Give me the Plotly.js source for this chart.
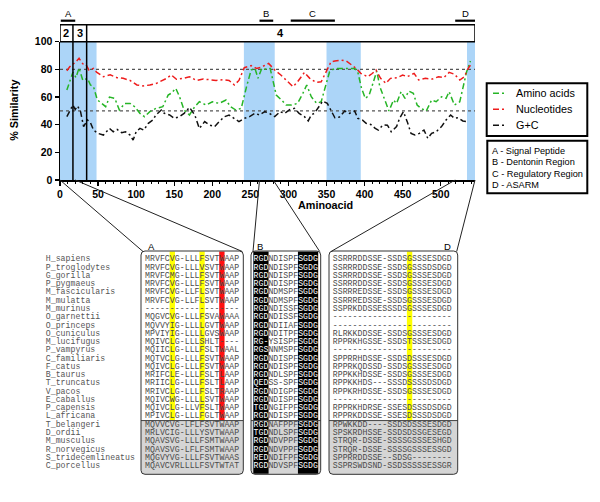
<!DOCTYPE html>
<html><head><meta charset="utf-8">
<script src="https://cdn.plot.ly/plotly-3.0.1.min.js"></script>
<style>html,body{margin:0;padding:0;background:#fff}</style>
</head><body><div id="chart" style="width:600px;height:502px"></div>
<script>
// ---------- similarity curves ----------
const aminoX = [9,13,17,21,25,30,36,40,44,49,55,60,65,72,78,85,92,98,105,111,118,126,135,142,146,152,157,163,170,177,183,192,200,209,218,224,231,238,245,251,256,260,265,271,276,280,284,291,297,304,312,319,324,330,337,343,350,354,361,369,378,387,391,396,401,406,411,416,420,427,432,438,442,448,453,458,464,469,474,481,488,494,501,507,511,518,525,529,534,539];
const aminoY = [65,72,78,74,81,72,73.5,68.7,67.5,58,55.4,53,60,59,50.6,55.4,55.4,53,48.2,45.8,49.4,51.8,53,61.4,62.7,66.3,60.2,50.6,47,53,56.6,54.2,56.6,55.4,57.8,53,50.6,51.8,67.5,79.5,80.7,73.5,80.7,80,80.7,70,61.4,57.8,54.2,54.2,55.4,62.7,68.7,60.2,55.4,56.6,71,78.3,80.7,80.7,81.2,80.7,78.3,66.3,59,61.4,69.9,78.8,67.5,56.6,49.9,57.8,55.4,63.9,59,64.3,62.7,54.2,51.8,49.9,57.8,56.6,60.2,59,63.9,54.2,56.6,66.3,78.3,86];
const nucX = [9,13,20,25,30,34,38,44,48,57,66,75,83,92,101,109,118,127,140,146,153,162,170,179,188,196,205,214,222,229,235,242,251,258,264,274,282,290,297,306,312,321,328,336,343,350,356,361,369,376,382,389,395,404,410,415,421,428,434,443,450,456,465,471,480,489,497,504,511,518,525,531,536,539];
const nucY = [79,82,85,88,84,83.6,79.5,80.7,78,74.7,76,74,73.5,72,68.7,68,68.7,70,73.5,76,72.8,73.5,74.7,72,73,72.5,72,72.5,72,68.7,72,81.2,82.7,80.7,81.5,84.3,79.5,75.9,72.3,67.5,71,77.8,73.5,70.6,71,79.5,85.5,86,86.7,86,83.6,80.7,77.1,74.7,77,79.5,73.5,69.9,73.5,74,75.9,74.7,77.1,72.3,73.5,73,74.7,74,77.8,76.5,72.3,74.7,80.7,83];
const gcX = [9,13,17,20,23,27,31,36,40,44,50,57,61,65,70,75,81,86,92,96,100,105,110,116,122,126,133,137,144,150,157,163,170,177,183,190,196,203,209,216,222,229,235,242,249,256,262,269,275,282,289,295,302,308,314,321,326,330,334,340,345,351,356,361,367,374,380,387,391,397,402,408,414,418,424,430,435,442,446,451,456,461,466,472,478,483,488,494,501,507,513,518,523,529,535];
const gcY = [45.8,50.6,54.2,51,53.5,49.4,38.6,43.4,41.4,36.1,33.7,32.5,34.9,37.3,34.9,36.6,34.2,34.9,32.5,28.9,34.9,37.3,36.1,41,43.4,47,50.6,48.2,47,44.6,45.8,48.2,52.5,47,37.3,42.2,39.8,38.6,42.2,45.8,47,44.6,42.2,44.6,45.8,48.2,47,49.4,48.2,45.8,49.4,48.2,51,51.8,48.2,45.8,42.7,47,48.2,53,57.1,55.4,50.6,45,45.5,49.9,48.2,49.9,44.6,43.4,41,40.2,37.3,36.1,39.8,39.6,34.9,38.6,44.6,49.4,42.2,33.7,32.5,33.7,36.1,30.1,33.7,34.9,38.6,43.4,47,44.6,45,42.7,42.2];
const seriesNames = ['Amino acids','Nucleotides','G+C'];
const seriesColors = ['#26b526','#ee1c1c','#111111'];

// ---------- regions ----------
const shadedStart = [0, 241.5, 350, 534.5];
const shadedEnd   = [48, 282, 395, 545];
const exonLabels = ['2','3','4'];
const exonBounds = [0, 17, 35, 545];
const featureLabels = ['A','B','C','D'];
const featureNames = ['Signal Peptide','Dentonin Region','Regulatory Region','ASARM'];
const featureStart = [1, 262, 303, 519];
const featureEnd   = [20, 280, 361, 545];
const refLines = [80, 50];

// ---------- alignment ----------
const species = ['H_sapiens','P_troglodytes','G_gorilla','P_pygmaeus','M_fascicularis','M_mulatta','M_murinus','O_garnettii','O_princeps','O_cuniculus','M_lucifugus','P_vampyrus','C_familiaris','F_catus','B_taurus','T_truncatus','V_pacos','E_caballus','P_capensis','L_africana','T_belangeri','D_ordii','M_musculus','R_norvegicus','S_tridecemlineatus','C_porcellus'];
const seqA = ['MRVFCVG-LLLFSVTWAAP','MRVFCVG-LLLVSVTWAAP','MRVFCMG-LLLFSVTWAAP','MRVFCVG-LLLFSVTWAAP','MRVFCVG-LLFLSVTWAAP','MRVFCVG-LLFLSVTWAAP','-------------------','MQGVCVG-LLLFSVAWAAA','MQVVYIG-LLLLGVTWAAP','MPVIYIG-LLLLGVSWAAP','MQIVCLG-LLLSHLT----','MQIICLG-LLLFSLTWAAL','MQTVCLG-LLLFSVTWAAP','MQIVCLG-LLLFSVTWAAP','MRIFCLE-LLLFSLTLAAP','MRIICLG-LLLFSLTLAAP','MRIVCLG-LLLFSLTRAAP','MQIVCWG-LLLLSVTWAAP','MQIVCLG-LLVFSLTWAAP','MPIVCLG-LLLFGLTWAAP','MQVVCVG-LFLFSVTWAAP','MRLVCIG-LLLYSVTWAAP','MQAVSVG-LLLFSMTWAAP','MQAVSVG-LFLFSMTWAAP','MQGVYVG-LLLFSVTWAAS','MQAVCVRLLLLFSVTWTAT'];
const seqB = ['RGDNDISPFSGDG','RGDNDISPFSGDG','RGDNDISPFSGDG','RGDNDISPFSGDG','RGDNDMSPFSGDG','RGDNDMSPFSGDG','RGDNDISSFSGDG','RGDNDISSFSGDG','RGDNDIIAFSGDG','RGDNDITPFSGDG','RG-YSISPFSGDG','RGSNNMSPFSGDG','RGDNDISPFSGDG','RGDNDISPFSGDG','RGDNDLSPFSGDG','QEDSS-SPFSGDG','RGDNDIGPFSGDG','RGDNDISPFSGDG','TGDNGIFPFSGDG','RGDNDISPFSGDG','RGDNAFPPFSGDG','TGDNDLSPFSGDG','RGDNDVPPFSGDG','RGDNDVPPFSGDG','REDNDIFPFSGDG','RGDNDVSPFSGDG'];
const seqD = ['SSRRRDDSSE-SSDSGSSSESDGD','SSRRRDDSSE-SSDSGSSSDSDGD','SSRRRDDSSE-SSDSGSSSESDGD','SSRRRDDSSE-SSDSGSSSESDGD','SSRRREDSSE-SSDSGSSSESDGD','SSRRREDSSE-SSDSGSSSESDGD','SSPRKDDSSESSSDSGSSSESDGD','------------------------','------------------------','RLRKKDDSSE-SSDSGSSSESDGD','RPPRKHGSSE-SSDSTSSSESDGD','------------------------','SPPRRHDSSE-SSDSDSSSESDGD','RPPRKQDSSD-SSDSGSSSESDGD','RPPKKHDSSE-SSDSGSSSESDGD','RPPKKHDS---SSSDSSSSDSDGD','RPPKRHDSSE-SSDSGSSSESDGD','------------------------','RPPRKHDRSE-SSESDSSSDSDGD','RPPRKDDSSE-SSESDSSSDSDGD','RPWKKDD----SSDSDSSSESDGD','SPSKRDHSSE-SSDSDSSGESEGD','STRQR-DSSE-SSSSGSSSESHGD','STRQR-DSSE-SSSSGSSSESSGD','SPPRRDDSSE--SDSG--------','SSPRSWDSND-SSDSSSSSESSGR'];
const greyFromRow = 20;

// ---------- layout constants (pixels) ----------
const W = 600, H = 502;
const xMax = 545;
const xDom = [60/W, 475/W];
const yDom = [1-180/H, 1-41.7/H];
const px = v => v / W;
const py = v => 1 - v / H;
const aaPaper = aa => xDom[0] + aa / xMax * (xDom[1]-xDom[0]);
const ROW0 = 259.3, ROWP = 8.27, CH = 4.96;
const boxTop = 251, boxBot = 474.3;
const greyY = ROW0 + (greyFromRow-0.5)*ROWP;
const mono = 'Liberation Mono, Courier New, monospace';
const sans = 'Arial, Liberation Sans, sans-serif';
const dashPat = '6px,3px,2px,3px';

const panels = [
  {label:'A', seqs:seqA, left:141, right:243.3, start:145, labelX:151, conn:0,
   hl:[{c0:5,c1:5,color:'#ffff00',full:false},{c0:11,c1:11,color:'#ffff00',full:false},{c0:15,c1:15,color:'#ff1010',full:false}]},
  {label:'B', seqs:seqB, left:251, right:320.7, start:253.5, labelX:260, conn:1,
   hl:[{c0:0,c1:2,color:'#000000',full:true},{c0:9,c1:12,color:'#000000',full:true}]},
  {label:'D', seqs:seqD, left:329, right:457.7, start:332.7, labelX:447, conn:3,
   hl:[{c0:15,c1:15,color:'#ffff00',full:false}]}
];

function rr(x0,y0,x1,y1,r){
  return `M${x0+r},${y0} L${x1-r},${y0} Q${x1},${y0} ${x1},${y0+r} L${x1},${y1-r} Q${x1},${y1} ${x1-r},${y1} L${x0+r},${y1} Q${x0},${y1} ${x0},${y1-r} L${x0},${y0+r} Q${x0},${y0} ${x0+r},${y0} Z`;
}
function rrBottom(x0,y0,x1,y1,r){
  return `M${x0},${y0} L${x1},${y0} L${x1},${y1-r} Q${x1},${y1} ${x1-r},${y1} L${x0+r},${y1} Q${x0},${y1} ${x0},${y1-r} Z`;
}
function ann(o){ return Object.assign({showarrow:false, xanchor:'center', yanchor:'middle', borderpad:0}, o); }

const shapes = [];
const annotations = [];

for (let i=0;i<shadedStart.length;i++){
  shapes.push({type:'rect', xref:'x', yref:'y', x0:shadedStart[i], x1:shadedEnd[i], y0:0, y1:100,
    fillcolor:'#acd5f8', line:{width:0}, layer:'below'});
}
refLines.forEach(v=>shapes.push({type:'line', xref:'x', yref:'y', x0:0, x1:xMax, y0:v, y1:v,
  line:{color:'#555', width:1.2, dash:'dot'}, layer:'below'}));
const exTop = py(24.7);
shapes.push({type:'rect', xref:'x', yref:'paper', x0:0, x1:xMax, y0:yDom[1], y1:exTop, line:{color:'#000', width:1.5}, fillcolor:'rgba(0,0,0,0)'});
for (let i=1;i<exonBounds.length-1;i++){
  shapes.push({type:'line', xref:'x', yref:'paper', x0:exonBounds[i], x1:exonBounds[i], y0:yDom[0], y1:exTop, line:{color:'#000', width:1.5}});
}
exonLabels.forEach((t,i)=>annotations.push(ann({xref:'x', yref:'paper', x:(exonBounds[i]+exonBounds[i+1])/2, y:py(33.2), text:t,
  font:{family:sans, size:11, weight:'bold', color:'#000'}})));
featureLabels.forEach((t,i)=>{
  shapes.push({type:'line', xref:'x', yref:'paper', x0:featureStart[i], x1:featureEnd[i], y0:py(20.7), y1:py(20.7), line:{color:'#000', width:2.2}});
  annotations.push(ann({xref:'x', yref:'paper', x:(featureStart[i]+featureEnd[i])/2, y:py(13.5), text:t,
    font:{family:sans, size:9.5, color:'#000'}}));
});
annotations.push(ann({xref:'paper', yref:'paper', x:px(14), y:py(110.8), text:'% Similarity', textangle:-90,
  font:{family:sans, size:10.8, weight:'bold', color:'#000'}}));
annotations.push(ann({xref:'paper', yref:'paper', x:px(325), y:py(205), text:'Aminoacid',
  font:{family:sans, size:10.8, weight:'bold', color:'#000'}}));

// legend 1
shapes.push({type:'rect', xref:'paper', yref:'paper', x0:px(486.7), x1:px(587.3), y0:py(136), y1:py(83.3), line:{color:'#000', width:2}});
const legY = [93.3, 109.3, 125.3];
seriesNames.forEach((n,i)=>{
  shapes.push({type:'line', xref:'paper', yref:'paper', x0:px(493), x1:px(507), y0:py(legY[i]), y1:py(legY[i]),
    line:{color:seriesColors[i], width:1.4, dash:dashPat}});
  annotations.push(ann({xref:'paper', yref:'paper', x:px(515), y:py(legY[i]), xanchor:'left', text:n,
    font:{family:sans, size:10.8, color:'#000'}}));
});
// legend 2
shapes.push({type:'rect', xref:'paper', yref:'paper', x0:px(487.3), x1:px(587.3), y0:py(193.3), y1:py(140.7), line:{color:'#000', width:2}});
const leg2Y = [151, 162.5, 173.8, 185];
featureLabels.forEach((t,i)=>annotations.push(ann({xref:'paper', yref:'paper', x:px(490.5), y:py(leg2Y[i]), xanchor:'left',
  text:t+' - '+featureNames[i], font:{family:sans, size:9.2, color:'#000'}})));

// alignment panels
const tx=[], ty=[], tt=[], tc=[];
species.forEach((s,r)=>{
  for (let k=0;k<s.length;k++){ tx.push(45.7+(k+0.5)*CH); ty.push(ROW0+r*ROWP); tt.push(s[k]); tc.push('#555'); }
});
panels.forEach(p=>{
  shapes.push({type:'path', xref:'x2', yref:'y2', path:rr(p.left,boxTop,p.right,boxBot,4), fillcolor:'#fff', line:{width:0}, layer:'below'});
  shapes.push({type:'path', xref:'x2', yref:'y2', path:rrBottom(p.left,greyY,p.right,boxBot,4), fillcolor:'#d5d5d5', line:{width:0}, layer:'below'});
  p.hl.forEach(h=>{
    shapes.push({type:'rect', xref:'x2', yref:'y2', x0:p.start+h.c0*CH-0.2, x1:p.start+(h.c1+1)*CH+0.2,
      y0:boxTop+0.5, y1:h.full?boxBot-0.5:greyY, fillcolor:h.color, line:{width:0}, layer:'below'});
  });
  shapes.push({type:'line', xref:'x2', yref:'y2', x0:p.left, x1:p.right, y0:greyY, y1:greyY, line:{color:'#444', width:1}});
  shapes.push({type:'path', xref:'x2', yref:'y2', path:rr(p.left,boxTop,p.right,boxBot,4), line:{color:'#333', width:1}});
  annotations.push(ann({xref:'paper', yref:'paper', x:px(p.labelX), y:py(246.5), text:p.label,
    font:{family:sans, size:9.5, color:'#000'}}));
  const fi = p.conn;
  shapes.push({type:'line', xref:'paper', yref:'paper', x0:aaPaper(fi===0?0:featureStart[fi]), y0:yDom[0], x1:px(p.left+2), y1:py(boxTop+0.5), line:{color:'#222', width:1}});
  shapes.push({type:'line', xref:'paper', yref:'paper', x0:aaPaper(featureEnd[fi]), y0:yDom[0], x1:px(p.right-1), y1:py(boxTop+0.5), line:{color:'#222', width:1}});
  p.seqs.forEach((s,r)=>{
    for (let k=0;k<s.length;k++){
      let col = '#4a4a4a';
      p.hl.forEach(h=>{ if (h.full && k>=h.c0 && k<=h.c1) col = '#ffffff'; });
      tx.push(p.start+(k+0.5)*CH); ty.push(ROW0+r*ROWP); tt.push(s[k]); tc.push(col);
    }
  });
});

const lineStyle = c => ({color:c, width:1.5, dash:dashPat});
const data = [
  {x:aminoX, y:aminoY, name:seriesNames[0], mode:'lines', line:lineStyle(seriesColors[0]), xaxis:'x', yaxis:'y', hoverinfo:'skip'},
  {x:nucX, y:nucY, name:seriesNames[1], mode:'lines', line:lineStyle(seriesColors[1]), xaxis:'x', yaxis:'y', hoverinfo:'skip'},
  {x:gcX, y:gcY, name:seriesNames[2], mode:'lines', line:lineStyle(seriesColors[2]), xaxis:'x', yaxis:'y', hoverinfo:'skip'},
  {x:tx, y:ty, text:tt, mode:'text', textposition:'middle center', textfont:{family:mono, size:8.2, color:tc},
   xaxis:'x2', yaxis:'y2', hoverinfo:'skip', cliponaxis:false}
];

const tickFont = {family:sans, size:10.5, weight:'bold', color:'#000'};
const layout = {
  width:W, height:H, margin:{l:0,r:0,t:0,b:0,pad:0}, showlegend:false,
  paper_bgcolor:'#fff', plot_bgcolor:'rgba(0,0,0,0)',
  xaxis:{domain:xDom, range:[0,xMax], anchor:'y', showline:true, linecolor:'#000', linewidth:1.5,
    ticks:'outside', ticklen:4, tickwidth:1.2, tickcolor:'#000', tick0:0, dtick:50, showgrid:false, zeroline:false,
    tickfont:tickFont, minor:{dtick:10, ticks:'outside', ticklen:2.5, tickwidth:1, tickcolor:'#000', showgrid:false}, fixedrange:true},
  yaxis:{domain:yDom, range:[0,100], anchor:'x', showline:true, linecolor:'#000', linewidth:1.5,
    ticks:'outside', ticklen:4, tickwidth:1.2, tickcolor:'#000', tick0:0, dtick:20, showgrid:false, zeroline:false,
    tickfont:tickFont, fixedrange:true},
  xaxis2:{domain:[0,1], range:[0,W], anchor:'y2', visible:false, fixedrange:true},
  yaxis2:{domain:[0,1], range:[H,0], anchor:'x2', visible:false, fixedrange:true},
  shapes:shapes, annotations:annotations
};
Plotly.newPlot('chart', data, layout, {staticPlot:true, displayModeBar:false});
</script></body></html>
